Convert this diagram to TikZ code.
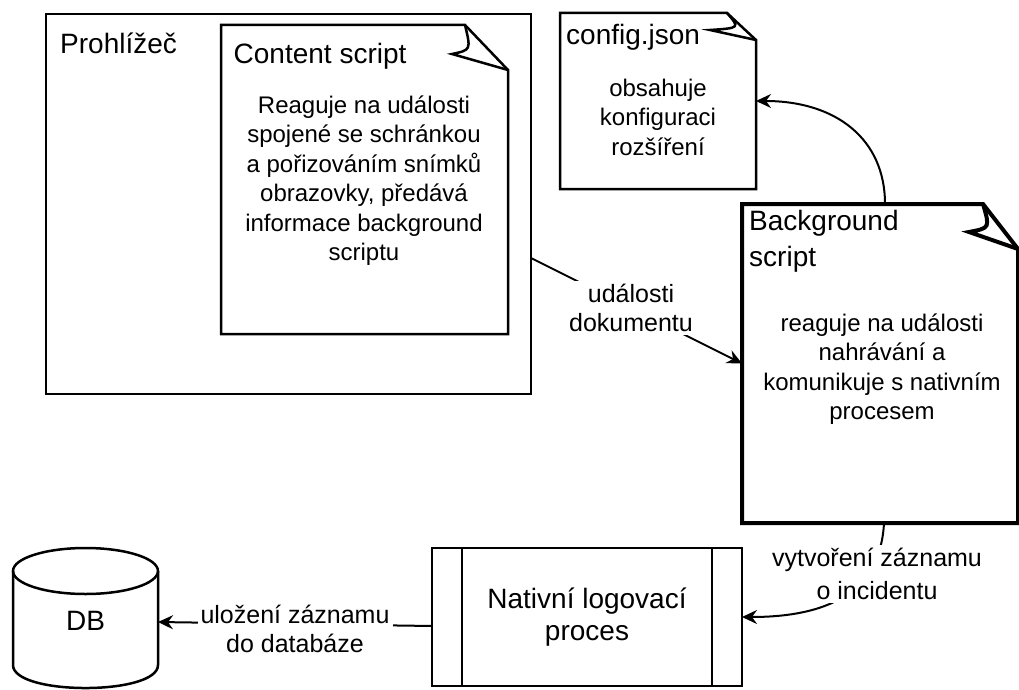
\documentclass[tikz,border=0pt]{standalone}
\usepackage{fontspec}
\setmainfont{Liberation Sans}
\usetikzlibrary{calc,arrows.meta}
\begin{document}
\begin{tikzpicture}[x=1pt,y=-1pt,
  frame/.style={draw=none, rectangle, inner sep=0pt, outer sep=0pt},
  outline/.style={line width=2.5pt, line join=miter},
  thick outline/.style={line width=4pt, line join=miter},
  edge/.style={line width=2pt, -{Stealth[length=15pt,width=14pt,inset=5pt]}},
  title/.style={font=\fontsize{28}{34}\selectfont, inner sep=0pt},
  body/.style={font=\fontsize{24}{29.5}\selectfont, align=center, inner sep=0pt},
  lab/.style={font=\fontsize{25}{29.5}\selectfont, align=center, fill=white, inner sep=3pt}]
\useasboundingbox (0,0) rectangle (1019,690);

% shape frames (named nodes)
\node[frame, minimum width=485pt, minimum height=380pt] (prohl) at (288.5,204) {};
\node[frame, minimum width=287pt, minimum height=309pt] (cs) at (364.5,179.5) {};
\node[frame, minimum width=196pt, minimum height=176pt] (cfg) at (658,101) {};
\node[frame, minimum width=276pt, minimum height=319pt] (bg) at (880,363.5) {};
\node[frame, minimum width=310pt, minimum height=138pt] (proc) at (587,617) {};
\node[frame, minimum width=145pt, minimum height=140pt] (db) at (85.5,618) {};

% Prohlizec box
\draw[outline] (prohl.north west) rectangle (prohl.south east);

% Content script note
\draw[outline] (cs.north west) -- ($(cs.north east)+(-43,0)$) -- ($(cs.north east)+(0,45)$)
  -- (cs.south east) -- (cs.south west) -- cycle;
\draw[outline] ($(cs.north east)+(-43,0)$) .. controls (471,50) .. (452,54) -- ($(cs.north east)+(0,45)$);

% config.json note
\draw[outline] (cfg.north west) -- ($(cfg.north east)+(-29,0)$) -- ($(cfg.north east)+(0,27)$)
  -- (cfg.south east) -- (cfg.south west) -- cycle;
\draw[outline] ($(cfg.north east)+(-29,0)$) .. controls (740,28) .. (710,30) -- ($(cfg.north east)+(0,27)$);

% Background script note
\draw[thick outline] (bg.north west) -- ($(bg.north east)+(-35,0)$) -- ($(bg.north east)+(0,45)$)
  -- (bg.south east) -- (bg.south west) -- cycle;
\draw[thick outline] ($(bg.north east)+(-35,0)$) .. controls (990,228) .. (969,232) -- ($(bg.north east)+(0,45)$);

% process box
\draw[outline] (proc.north west) rectangle (proc.south east);
\draw[outline] ($(proc.north west)+(30,0)$) -- ($(proc.south west)+(30,0)$);
\draw[outline] ($(proc.north east)+(-30,0)$) -- ($(proc.south east)+(-30,0)$);

% DB cylinder
\draw[outline] ($(db.north)+(0,23)$) ellipse [x radius=72.5pt, y radius=23pt];
\draw[outline] ($(db.north west)+(0,23)$) -- ($(db.south west)+(0,-23)$)
  .. controls ($(db.south west)+(0,7.7)$) and ($(db.south east)+(0,7.7)$) .. ($(db.south east)+(0,-23)$)
  -- ($(db.north east)+(0,23)$);

% texts
\node[title, anchor=base west] (prohlT) at (60,54) {Prohlížeč};
\node[title, anchor=base west] (csT) at (233.5,64) {Content script};
\node[body] (csB) at (364,180.5) {Reaguje na události\\spojené se schránkou\\a pořizováním snímků\\obrazovky, předává\\informace background\\scriptu};
\node[title, anchor=base west] (cfgT) at (566,45) {config.json};
\node[body] (cfgB) at (658,117) {obsahuje\\konfiguraci\\rozšíření};
\node[title, anchor=north west, align=left, font=\fontsize{28}{36}\selectfont] (bgT) at (749,210.5) {Background\\script};
\node[body] (bgB) at (882,369) {reaguje na události\\nahrávání a\\komunikuje s nativním\\procesem};
\node[title, align=center, font=\fontsize{28}{32.5}\selectfont] (procT) at (587,617) {Nativní logovací\\proces};
\node[title, anchor=base] (dbT) at (85.5,630) {DB};

% connectors
\draw[edge] ($(prohl.east)+(0,54)$) -- (bg.west);
\node[lab] (l1) at (631,308) {události\\dokumentu};
\draw[edge] ($(bg.north)+(5,0)$) .. controls ($(bg.north)+(5,-65)$) and ($(cfg.east)+(80,0)$) .. (cfg.east);
\draw[edge] ($(bg.south)+(4,0)$) .. controls (880,600) and (815,617) .. (proc.east);
\node[lab, font=\fontsize{25}{33}\selectfont] (l2) at (877,574) {vytvoření záznamu\\o incidentu};
\draw[edge] ($(proc.west)+(0,9)$) -- ($(db.east)+(0,4)$);
\node[lab] (l3) at (295,629) {uložení záznamu\\do databáze};
\end{tikzpicture}
\end{document}
